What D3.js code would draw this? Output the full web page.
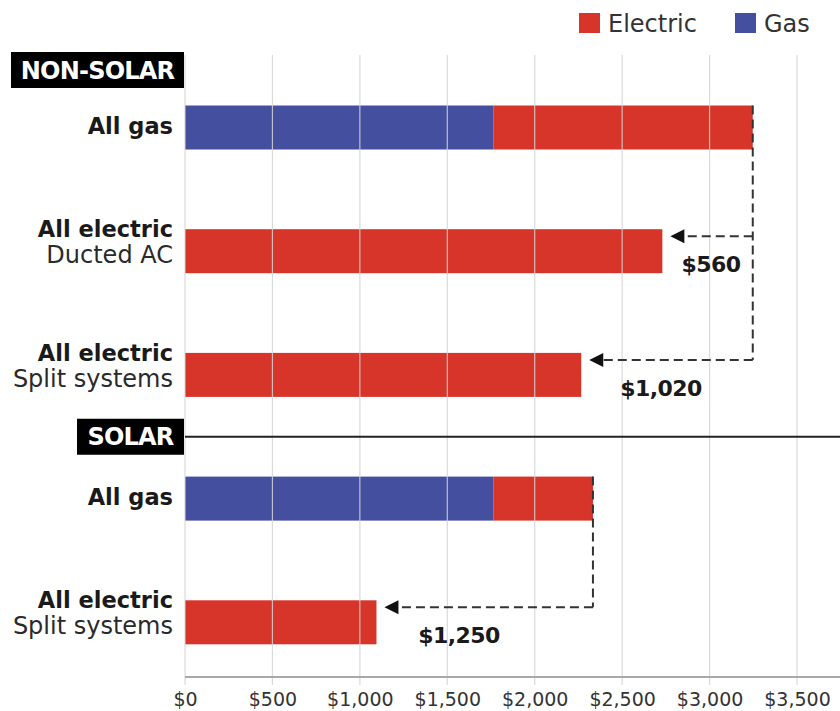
<!DOCTYPE html>
<html>
<head>
<meta charset="utf-8">
<script src="https://cdn.jsdelivr.net/npm/d3@7/dist/d3.min.js"></script>
<style>
  html, body { margin: 0; padding: 0; background: #fff; }
  svg { display: block; font-family: "DejaVu Sans", sans-serif; }
</style>
</head>
<body>
<svg id="chart" width="840" height="711"></svg>
<script>
// ---------- data ----------
const rowIds = ["ns-gas", "ns-ducted", "ns-split", "s-gas", "s-split"];
const mainLabels = ["All gas", "All electric", "All electric", "All gas", "All electric"];
const subLabels = ["", "Ducted AC", "Split systems", "", "Split systems"];
const gasValues = [1763, 0, 0, 1763, 0];
const electricValues = [1484, 2730, 2266, 570, 1095];
const tickValues = [0, 500, 1000, 1500, 2000, 2500, 3000, 3500];
const groupNames = ["NON-SOLAR", "SOLAR"];
const seriesNames = ["Electric", "Gas"];
const savingFrom = [0, 0, 3];
const savingTo = [1, 2, 4];
const savingLabels = ["$560", "$1,020", "$1,250"];

// ---------- layout / style ----------
const W = 840, H = 711;
const colors = { Electric: "#d7342a", Gas: "#454f9f" };
const labelCenters = [3008, 2722, 1567]; // annotation label centres, in $ on x scale
const barH = 44;

const svg = d3.select("#chart");
const x = d3.scaleLinear().domain([0, 3500]).range([185, 797]);
const y = d3.scalePoint().domain(rowIds).range([127.5, 622.3]);
const axisY = 677;
const gridTop = 55;

// bars
const rows = rowIds.map((id, i) => ({ id, gas: gasValues[i], el: electricValues[i] }));
const gBars = svg.append("g");
gBars.selectAll("rect.gas").data(rows.filter(d => d.gas > 0)).join("rect")
  .attr("x", x(0)).attr("y", d => y(d.id) - barH / 2)
  .attr("width", d => x(d.gas) - x(0)).attr("height", barH)
  .attr("fill", colors.Gas);
gBars.selectAll("rect.el").data(rows).join("rect")
  .attr("x", d => x(d.gas)).attr("y", d => y(d.id) - barH / 2)
  .attr("width", d => x(d.gas + d.el) - x(d.gas)).attr("height", barH)
  .attr("fill", colors.Electric);

// gridlines (drawn over bars, semi-transparent)
svg.append("g").selectAll("line").data(tickValues).join("line")
  .attr("x1", d => x(d)).attr("x2", d => x(d))
  .attr("y1", gridTop).attr("y2", axisY + 8)
  .attr("stroke", "rgb(212,212,212)").attr("stroke-opacity", 0.85).attr("stroke-width", 1.2);

// x axis line
svg.append("line").attr("x1", x(0)).attr("x2", W).attr("y1", axisY).attr("y2", axisY)
  .attr("stroke", "#a8a8a8").attr("stroke-width", 2);

// tick labels via axis
const axis = d3.axisBottom(x).tickValues(tickValues).tickSize(0).tickPadding(0)
  .tickFormat(d => "$" + d3.format(",")(d));
const gAxis = svg.append("g").attr("transform", `translate(0,${axisY})`).call(axis);
gAxis.select(".domain").remove();
gAxis.attr("font-size", null).attr("font-family", null);
gAxis.selectAll("text").attr("y", 29).attr("dy", 0)
  .style("font-family", "DejaVu Sans, sans-serif").style("font-size", "19px").attr("fill", "#333");

// row labels
const gLab = svg.append("g").attr("text-anchor", "end").attr("fill", "#1a1a1a");
rows.forEach((d, i) => {
  const cy = y(d.id);
  if (subLabels[i]) {
    gLab.append("text").attr("x", 173).attr("y", cy - 14)
      .attr("font-size", 22.5).attr("font-weight", "bold").text(mainLabels[i]);
    gLab.append("text").attr("x", 173).attr("y", cy + 12)
      .attr("font-size", 24).attr("fill", "#2a2a2a").text(subLabels[i]);
  } else {
    gLab.append("text").attr("x", 173).attr("y", cy + 6)
      .attr("font-size", 22.5).attr("font-weight", "bold").text(mainLabels[i]);
  }
});

// group headers
const headerY = [y(rowIds[0]) - 57.5, (y(rowIds[2]) + y(rowIds[3])) / 2];
const headerLeft = [11, 77];
// solar separator line
svg.append("line").attr("x1", x(0)).attr("x2", W).attr("y1", headerY[1]).attr("y2", headerY[1])
  .attr("stroke", "#222").attr("stroke-width", 2);
groupNames.forEach((name, i) => {
  svg.append("rect").attr("x", headerLeft[i]).attr("y", headerY[i] - 18)
    .attr("width", x(0) - 1 - headerLeft[i]).attr("height", 36).attr("fill", "#000");
  svg.append("text").attr("x", (headerLeft[i] + x(0) - 1) / 2).attr("y", headerY[i] + 8.5)
    .attr("text-anchor", "middle").attr("fill", "#fff").attr("font-weight", "bold")
    .attr("font-size", 24).attr("letter-spacing", -0.8).text(name);
});

// savings annotations
const gAnn = svg.append("g");
const totals = rows.map(d => d.gas + d.el);
const dash = "9,5";
const sources = Array.from(new Set(savingFrom));
sources.forEach(s => {
  const targets = savingTo.filter((t, k) => savingFrom[k] === s);
  const lowY = d3.max(targets, t => y(rowIds[t]) - 15);
  gAnn.append("line").attr("x1", x(totals[s])).attr("x2", x(totals[s]))
    .attr("y1", y(rowIds[s]) - barH / 2).attr("y2", lowY)
    .attr("stroke", "#333").attr("stroke-width", 2).attr("stroke-dasharray", dash);
});
savingFrom.forEach((s, k) => {
  const t = savingTo[k];
  const ly = y(rowIds[t]) - 15;
  const tip = x(totals[t]) + 8;
  gAnn.append("line").attr("x1", x(totals[s])).attr("x2", tip + 12)
    .attr("y1", ly).attr("y2", ly)
    .attr("stroke", "#333").attr("stroke-width", 2).attr("stroke-dasharray", dash);
  gAnn.append("path")
    .attr("d", `M${tip},${ly} L${tip + 14},${ly - 7} L${tip + 14},${ly + 7} Z`)
    .attr("fill", "#111");
  gAnn.append("text").attr("x", x(labelCenters[k])).attr("y", ly + 36)
    .attr("text-anchor", "middle").attr("font-weight", "bold").attr("font-size", 22)
    .attr("letter-spacing", -0.6)
    .attr("fill", "#1a1a1a").text(savingLabels[k]);
});

// legend
const legendX = [579, 735];
seriesNames.forEach((name, i) => {
  svg.append("rect").attr("x", legendX[i]).attr("y", 13).attr("width", 21).attr("height", 20)
    .attr("fill", colors[name]);
  svg.append("text").attr("x", legendX[i] + 29).attr("y", 32)
    .attr("font-size", 24).attr("fill", "#333").text(name);
});
</script>
</body>
</html>
